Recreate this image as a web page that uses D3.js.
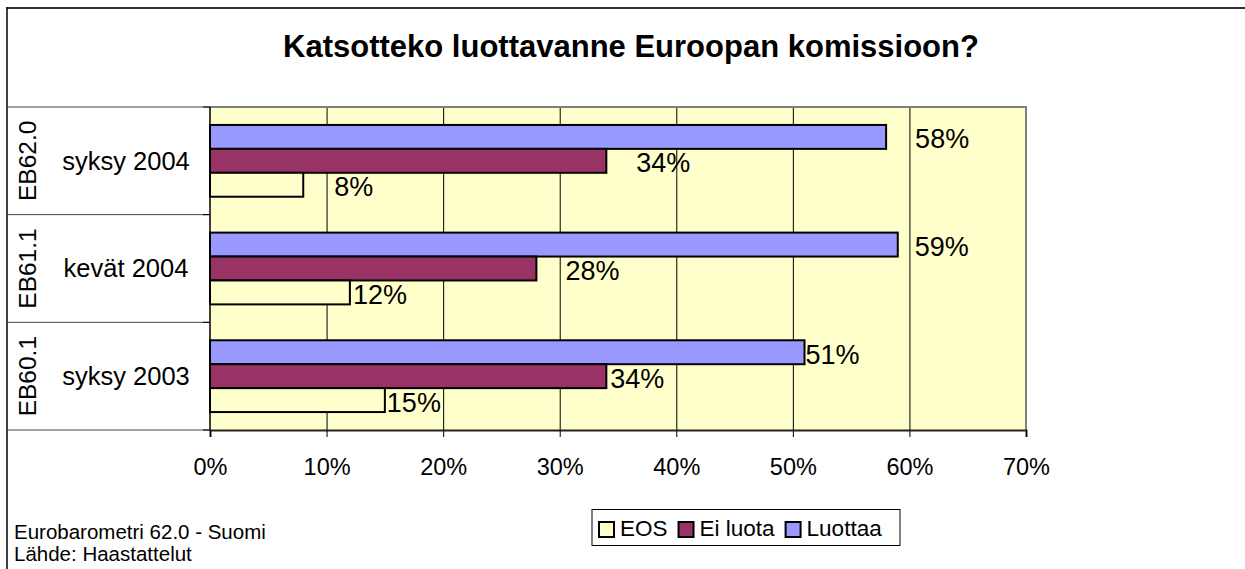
<!DOCTYPE html>
<html>
<head>
<meta charset="utf-8">
<script src="https://cdn.jsdelivr.net/npm/d3@7"></script>
<style>
    body { margin: 0; background: #fff; }
    svg { display: block; font-family: Arial, 'Liberation Sans', sans-serif; }
</style>
</head>
<body>
<svg id="chart"></svg>
<script>
const periods = ['syksy 2004', 'kevät 2004', 'syksy 2003']
const waves = ['EB62.0', 'EB61.1', 'EB60.1']
const seriesNames = ['Luottaa', 'Ei luota', 'EOS']
const luottaa = [58, 59, 51]
const eiLuota = [34, 28, 34]
const eos = [8, 12, 15]
const xTicks = [0, 10, 20, 30, 40, 50, 60, 70]
const legendOrder = ['EOS', 'Ei luota', 'Luottaa']

// label nudges (px) as the labels sit in the original
const labelDx = {
    Luottaa: [29, 17, 1],
    'Ei luota': [30, 29, 4],
    EOS: [31, 3, 2],
}

const colors = { Luottaa: '#9999ff', 'Ei luota': '#993366', EOS: '#ffffcc' }

let width = 1245
let height = 569
let plot = { left: 210, right: 1026, top: 107, bottom: 430 }

const svg = d3.select('#chart').attr('width', width).attr('height', height)

const rows = []
periods.forEach((p, i) => {
    rows.push({ period: p, series: 'Luottaa', value: luottaa[i], i: i })
    rows.push({ period: p, series: 'Ei luota', value: eiLuota[i], i: i })
    rows.push({ period: p, series: 'EOS', value: eos[i], i: i })
})

const xScale = d3.scaleLinear().domain([0, 70]).range([plot.left, plot.right])

const yScale = d3
    .scaleBand()
    .domain(periods)
    .range([plot.top, plot.bottom])
    .padding(0)

const innerScale = d3
    .scaleBand()
    .domain(seriesNames)
    .range([0, yScale.bandwidth()])
    .paddingInner(0)
    .paddingOuter(0.75)

// outer frame (only top and left show in the crop)
svg.append('line')
    .attr('x1', 7).attr('x2', width).attr('y1', 8).attr('y2', 8)
    .style('stroke', '#333').style('stroke-width', 2)
svg.append('line')
    .attr('x1', 7).attr('x2', 7).attr('y1', 7).attr('y2', height)
    .style('stroke', '#000').style('stroke-width', 1.5)

// title
svg.append('text')
    .attr('x', 631)
    .attr('y', 57)
    .attr('text-anchor', 'middle')
    .style('font-size', '31px')
    .style('font-weight', 'bold')
    .text('Katsotteko luottavanne Euroopan komissioon?')

// plot background
svg.append('rect')
    .attr('x', plot.left)
    .attr('y', plot.top)
    .attr('width', plot.right - plot.left)
    .attr('height', plot.bottom - plot.top)
    .style('fill', '#ffffcc')

// gridlines
svg.append('g')
    .selectAll('line')
    .data(xTicks.slice(1, -1))
    .enter()
    .append('line')
    .attr('x1', (d) => xScale(d) + 0.5)
    .attr('x2', (d) => xScale(d) + 0.5)
    .attr('y1', plot.top)
    .attr('y2', plot.bottom)
    .style('stroke', '#000')
    .style('stroke-width', 1)

// plot border top + right
svg.append('path')
    .attr('d', `M${plot.left},${plot.top}H${plot.right}V${plot.bottom}`)
    .style('fill', 'none')
    .style('stroke', '#808080')
    .style('stroke-width', 2)

// category table lines on the left
svg.append('g')
    .selectAll('line')
    .data(periods.map((p) => yScale(p)).concat([plot.bottom]))
    .enter()
    .append('line')
    .attr('x1', 7)
    .attr('x2', plot.left)
    .attr('y1', (d) => d)
    .attr('y2', (d) => d)
    .style('stroke', '#444')
    .style('stroke-width', 1)

// bars
svg.append('g')
    .selectAll('rect')
    .data(rows)
    .enter()
    .append('rect')
    .attr('x', xScale(0))
    .attr('y', (d) => yScale(d.period) + innerScale(d.series))
    .attr('width', (d) => xScale(d.value) - xScale(0))
    .attr('height', innerScale.bandwidth())
    .style('fill', (d) => colors[d.series])
    .style('stroke', '#000')
    .style('stroke-width', 2)

// value labels
svg.append('g')
    .selectAll('text')
    .data(rows)
    .enter()
    .append('text')
    .attr('x', (d) => xScale(d.value) + labelDx[d.series][d.i])
    .attr('y', (d) => yScale(d.period) + innerScale(d.series) + innerScale.bandwidth() / 2 + 2)
    .attr('dy', '0.35em')
    .style('font-size', '27px')
    .text((d) => d.value + '%')

// left axis line with ticks at category edges
svg.append('line')
    .attr('x1', plot.left).attr('x2', plot.left)
    .attr('y1', plot.top).attr('y2', plot.bottom)
    .style('stroke', '#000').style('stroke-width', 1.5)
svg.append('g')
    .selectAll('line')
    .data(periods.map((p) => yScale(p)).concat([plot.bottom]))
    .enter()
    .append('line')
    .attr('x1', plot.left - 7)
    .attr('x2', plot.left)
    .attr('y1', (d) => d)
    .attr('y2', (d) => d)
    .style('stroke', '#000')

// x axis
const xAxis = svg
    .append('g')
    .attr('transform', 'translate(0,' + plot.bottom + ')')
    .call(
        d3.axisBottom(xScale)
            .tickValues(xTicks)
            .tickSize(7)
            .tickPadding(21)
            .tickFormat((d) => d + '%')
    )
xAxis.select('.domain').style('stroke', '#222').style('stroke-width', 2)
xAxis.selectAll('.tick line').style('stroke', '#000')
xAxis.selectAll('text')
    .style('font-size', '23.5px')
    .style('font-family', 'Arial, Liberation Sans, sans-serif')
    .style('fill', '#000')

// category labels
svg.append('g')
    .selectAll('text')
    .data(periods)
    .enter()
    .append('text')
    .attr('x', 126)
    .attr('y', (d) => yScale(d) + yScale.bandwidth() / 2)
    .attr('dy', '0.35em')
    .attr('text-anchor', 'middle')
    .style('font-size', '25.5px')
    .text((d) => d)

svg.append('g')
    .selectAll('text')
    .data(waves)
    .enter()
    .append('text')
    .attr('transform', (d, i) =>
        'translate(' + 27 + ',' + (yScale(periods[i]) + yScale.bandwidth() / 2) + ') rotate(-90)')
    .attr('dy', '0.35em')
    .attr('text-anchor', 'middle')
    .style('font-size', '24.5px')
    .text((d) => d)

// legend
const legend = svg.append('g')
legend.append('rect')
    .attr('x', 592).attr('y', 509.5)
    .attr('width', 308).attr('height', 36)
    .style('fill', '#fff').style('stroke', '#000').style('stroke-width', 1)

let lx = 599
legendOrder.forEach((name) => {
    legend.append('rect')
        .attr('x', lx).attr('y', 522)
        .attr('width', 15).attr('height', 15)
        .style('fill', colors[name])
        .style('stroke', '#000')
        .style('stroke-width', 2)
    const t = legend.append('text')
        .attr('x', lx + 21)
        .attr('y', 536)
        .style('font-size', '22.5px')
        .text(name)
    lx += 21 + t.node().getComputedTextLength() + 11
})

// footnote
svg.append('text')
    .attr('x', 14).attr('y', 539)
    .style('font-size', '20.5px')
    .text('Eurobarometri 62.0 - Suomi')
svg.append('text')
    .attr('x', 14).attr('y', 561)
    .style('font-size', '20.5px')
    .text('Lähde: Haastattelut')
</script>
</body>
</html>
